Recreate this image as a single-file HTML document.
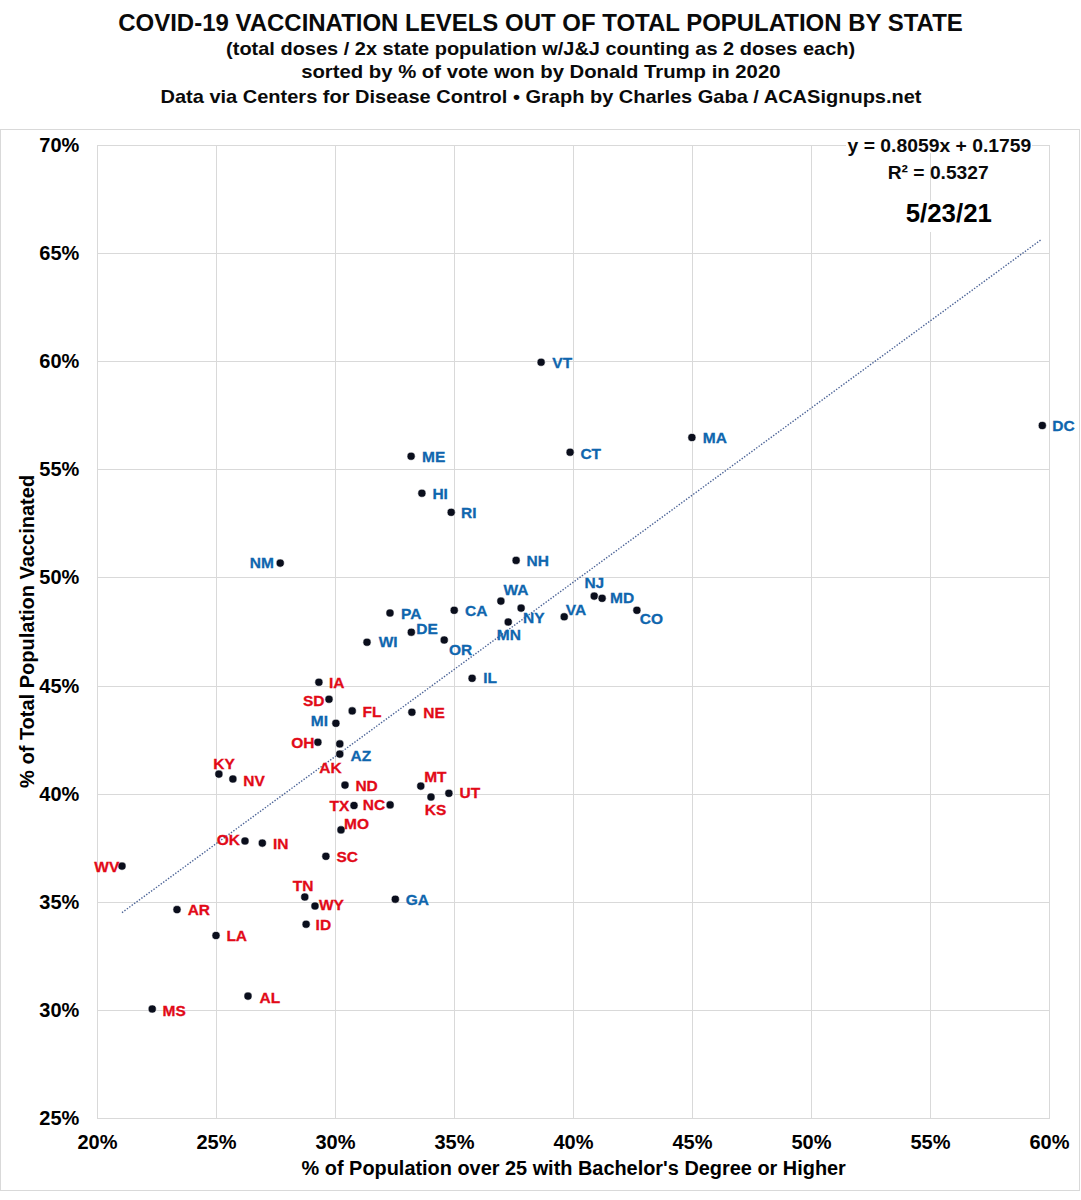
<!DOCTYPE html>
<html><head><meta charset="utf-8"><style>
html,body{margin:0;padding:0;background:#fff;}
svg{display:block;}
text{font-family:"Liberation Sans",sans-serif;font-weight:bold;}
</style></head><body>
<svg width="1081" height="1200" viewBox="0 0 1081 1200">
<rect width="1081" height="1200" fill="#fff"/>
<rect x="0.5" y="129.5" width="1079" height="1061" fill="none" stroke="#D9D9D9" stroke-width="1"/>
<line x1="97" y1="145.5" x2="1050" y2="145.5" stroke="#D9D9D9" stroke-width="1"/>
<line x1="97" y1="253.5" x2="1050" y2="253.5" stroke="#D9D9D9" stroke-width="1"/>
<line x1="97" y1="361.5" x2="1050" y2="361.5" stroke="#D9D9D9" stroke-width="1"/>
<line x1="97" y1="469.5" x2="1050" y2="469.5" stroke="#D9D9D9" stroke-width="1"/>
<line x1="97" y1="577.5" x2="1050" y2="577.5" stroke="#D9D9D9" stroke-width="1"/>
<line x1="97" y1="686.5" x2="1050" y2="686.5" stroke="#D9D9D9" stroke-width="1"/>
<line x1="97" y1="794.5" x2="1050" y2="794.5" stroke="#D9D9D9" stroke-width="1"/>
<line x1="97" y1="902.5" x2="1050" y2="902.5" stroke="#D9D9D9" stroke-width="1"/>
<line x1="97" y1="1010.5" x2="1050" y2="1010.5" stroke="#D9D9D9" stroke-width="1"/>
<line x1="97" y1="1118.5" x2="1050" y2="1118.5" stroke="#D9D9D9" stroke-width="1"/>
<line x1="97.5" y1="145" x2="97.5" y2="1119" stroke="#D9D9D9" stroke-width="1"/>
<line x1="216.5" y1="145" x2="216.5" y2="1119" stroke="#D9D9D9" stroke-width="1"/>
<line x1="335.5" y1="145" x2="335.5" y2="1119" stroke="#D9D9D9" stroke-width="1"/>
<line x1="454.5" y1="145" x2="454.5" y2="1119" stroke="#D9D9D9" stroke-width="1"/>
<line x1="573.5" y1="145" x2="573.5" y2="1119" stroke="#D9D9D9" stroke-width="1"/>
<line x1="692.5" y1="145" x2="692.5" y2="1119" stroke="#D9D9D9" stroke-width="1"/>
<line x1="811.5" y1="145" x2="811.5" y2="1119" stroke="#D9D9D9" stroke-width="1"/>
<line x1="930.5" y1="145" x2="930.5" y2="1119" stroke="#D9D9D9" stroke-width="1"/>
<line x1="1049.5" y1="145" x2="1049.5" y2="1119" stroke="#D9D9D9" stroke-width="1"/>
<text x="118.24" y="31.00" font-size="24" textLength="844.56" lengthAdjust="spacingAndGlyphs" fill="#0a0a0a" >COVID-19 VACCINATION LEVELS OUT OF TOTAL POPULATION BY STATE</text>
<text x="226.10" y="54.50" font-size="19" textLength="629.07" lengthAdjust="spacingAndGlyphs" fill="#0a0a0a" >(total doses / 2x state population w/J&amp;J counting as 2 doses each)</text>
<text x="301.19" y="78.30" font-size="19" textLength="479.28" lengthAdjust="spacingAndGlyphs" fill="#0a0a0a" >sorted by % of vote won by Donald Trump in 2020</text>
<text x="160.50" y="102.60" font-size="19" textLength="761.05" lengthAdjust="spacingAndGlyphs" fill="#0a0a0a" >Data via Centers for Disease Control • Graph by Charles Gaba / ACASignups.net</text>
<text x="79.3" y="151.5" font-size="20" text-anchor="end" fill="#000">70%</text>
<text x="79.3" y="259.5" font-size="20" text-anchor="end" fill="#000">65%</text>
<text x="79.3" y="367.5" font-size="20" text-anchor="end" fill="#000">60%</text>
<text x="79.3" y="475.5" font-size="20" text-anchor="end" fill="#000">55%</text>
<text x="79.3" y="583.5" font-size="20" text-anchor="end" fill="#000">50%</text>
<text x="79.3" y="692.5" font-size="20" text-anchor="end" fill="#000">45%</text>
<text x="79.3" y="800.5" font-size="20" text-anchor="end" fill="#000">40%</text>
<text x="79.3" y="908.5" font-size="20" text-anchor="end" fill="#000">35%</text>
<text x="79.3" y="1016.5" font-size="20" text-anchor="end" fill="#000">30%</text>
<text x="79.3" y="1124.5" font-size="20" text-anchor="end" fill="#000">25%</text>
<text x="97.5" y="1149.1" font-size="20" text-anchor="middle" fill="#000">20%</text>
<text x="216.5" y="1149.1" font-size="20" text-anchor="middle" fill="#000">25%</text>
<text x="335.5" y="1149.1" font-size="20" text-anchor="middle" fill="#000">30%</text>
<text x="454.5" y="1149.1" font-size="20" text-anchor="middle" fill="#000">35%</text>
<text x="573.5" y="1149.1" font-size="20" text-anchor="middle" fill="#000">40%</text>
<text x="692.5" y="1149.1" font-size="20" text-anchor="middle" fill="#000">45%</text>
<text x="811.5" y="1149.1" font-size="20" text-anchor="middle" fill="#000">50%</text>
<text x="930.5" y="1149.1" font-size="20" text-anchor="middle" fill="#000">55%</text>
<text x="1049.5" y="1149.1" font-size="20" text-anchor="middle" fill="#000">60%</text>
<text x="301.60" y="1175.20" font-size="20" textLength="544.25" lengthAdjust="spacingAndGlyphs" fill="#000" >% of Population over 25 with Bachelor's Degree or Higher</text>
<g transform="translate(33.9,787.5) rotate(-90)">
<text x="-0.40" y="0" font-size="20" fill="#000">% of Total Population Vaccinated</text>
</g>
<line x1="122" y1="912.6" x2="1041.8" y2="239.2" stroke="#4A6296" stroke-width="1.4" stroke-dasharray="1.4 1.6"/>
<rect x="846" y="136" width="186" height="17" fill="#fff"/>
<rect x="900" y="201" width="98" height="31" fill="#fff"/>
<text x="847.61" y="151.60" font-size="19" textLength="183.73" lengthAdjust="spacingAndGlyphs" fill="#0a0a0a" >y = 0.8059x + 0.1759</text>
<text x="887.76" y="178.80" font-size="19" textLength="100.87" lengthAdjust="spacingAndGlyphs" fill="#0a0a0a" >R² = 0.5327</text>
<text x="905.73" y="222.00" font-size="25" textLength="86.15" lengthAdjust="spacingAndGlyphs" fill="#000" >5/23/21</text>
<circle cx="541.1" cy="362.2" r="4.05" fill="#0A0E1C" stroke="#fff" stroke-width="0.6"/>
<circle cx="691.9" cy="437.5" r="4.05" fill="#0A0E1C" stroke="#fff" stroke-width="0.6"/>
<circle cx="1042.3" cy="425.5" r="4.05" fill="#0A0E1C" stroke="#fff" stroke-width="0.6"/>
<circle cx="411.1" cy="456.2" r="4.05" fill="#0A0E1C" stroke="#fff" stroke-width="0.6"/>
<circle cx="570.1" cy="452.2" r="4.05" fill="#0A0E1C" stroke="#fff" stroke-width="0.6"/>
<circle cx="421.9" cy="493.2" r="4.05" fill="#0A0E1C" stroke="#fff" stroke-width="0.6"/>
<circle cx="451.2" cy="512.3" r="4.05" fill="#0A0E1C" stroke="#fff" stroke-width="0.6"/>
<circle cx="280.2" cy="563.1" r="4.05" fill="#0A0E1C" stroke="#fff" stroke-width="0.6"/>
<circle cx="516.1" cy="560.4" r="4.05" fill="#0A0E1C" stroke="#fff" stroke-width="0.6"/>
<circle cx="500.9" cy="601.1" r="4.05" fill="#0A0E1C" stroke="#fff" stroke-width="0.6"/>
<circle cx="594.2" cy="596.1" r="4.05" fill="#0A0E1C" stroke="#fff" stroke-width="0.6"/>
<circle cx="602.1" cy="598.3" r="4.05" fill="#0A0E1C" stroke="#fff" stroke-width="0.6"/>
<circle cx="636.9" cy="610.3" r="4.05" fill="#0A0E1C" stroke="#fff" stroke-width="0.6"/>
<circle cx="564.2" cy="616.8" r="4.05" fill="#0A0E1C" stroke="#fff" stroke-width="0.6"/>
<circle cx="521.1" cy="608.1" r="4.05" fill="#0A0E1C" stroke="#fff" stroke-width="0.6"/>
<circle cx="508.2" cy="622" r="4.05" fill="#0A0E1C" stroke="#fff" stroke-width="0.6"/>
<circle cx="454.2" cy="610.3" r="4.05" fill="#0A0E1C" stroke="#fff" stroke-width="0.6"/>
<circle cx="390" cy="613" r="4.05" fill="#0A0E1C" stroke="#fff" stroke-width="0.6"/>
<circle cx="411.3" cy="632.2" r="4.05" fill="#0A0E1C" stroke="#fff" stroke-width="0.6"/>
<circle cx="367" cy="642.2" r="4.05" fill="#0A0E1C" stroke="#fff" stroke-width="0.6"/>
<circle cx="444.2" cy="640" r="4.05" fill="#0A0E1C" stroke="#fff" stroke-width="0.6"/>
<circle cx="472.1" cy="678.3" r="4.05" fill="#0A0E1C" stroke="#fff" stroke-width="0.6"/>
<circle cx="335.9" cy="723.3" r="4.05" fill="#0A0E1C" stroke="#fff" stroke-width="0.6"/>
<circle cx="339.8" cy="754.1" r="4.05" fill="#0A0E1C" stroke="#fff" stroke-width="0.6"/>
<circle cx="395.3" cy="899.2" r="4.05" fill="#0A0E1C" stroke="#fff" stroke-width="0.6"/>
<circle cx="318.9" cy="682.2" r="4.05" fill="#0A0E1C" stroke="#fff" stroke-width="0.6"/>
<circle cx="329" cy="699.2" r="4.05" fill="#0A0E1C" stroke="#fff" stroke-width="0.6"/>
<circle cx="352.2" cy="710.9" r="4.05" fill="#0A0E1C" stroke="#fff" stroke-width="0.6"/>
<circle cx="411.9" cy="712.2" r="4.05" fill="#0A0E1C" stroke="#fff" stroke-width="0.6"/>
<circle cx="317.9" cy="742.2" r="4.05" fill="#0A0E1C" stroke="#fff" stroke-width="0.6"/>
<circle cx="339.8" cy="743.9" r="4.05" fill="#0A0E1C" stroke="#fff" stroke-width="0.6"/>
<circle cx="218.9" cy="774.1" r="4.05" fill="#0A0E1C" stroke="#fff" stroke-width="0.6"/>
<circle cx="232.9" cy="779" r="4.05" fill="#0A0E1C" stroke="#fff" stroke-width="0.6"/>
<circle cx="345" cy="785.1" r="4.05" fill="#0A0E1C" stroke="#fff" stroke-width="0.6"/>
<circle cx="420.8" cy="786.1" r="4.05" fill="#0A0E1C" stroke="#fff" stroke-width="0.6"/>
<circle cx="448.9" cy="793.3" r="4.05" fill="#0A0E1C" stroke="#fff" stroke-width="0.6"/>
<circle cx="431" cy="797" r="4.05" fill="#0A0E1C" stroke="#fff" stroke-width="0.6"/>
<circle cx="354" cy="805.5" r="4.05" fill="#0A0E1C" stroke="#fff" stroke-width="0.6"/>
<circle cx="390.1" cy="804.9" r="4.05" fill="#0A0E1C" stroke="#fff" stroke-width="0.6"/>
<circle cx="341" cy="829.9" r="4.05" fill="#0A0E1C" stroke="#fff" stroke-width="0.6"/>
<circle cx="325.9" cy="856.3" r="4.05" fill="#0A0E1C" stroke="#fff" stroke-width="0.6"/>
<circle cx="245" cy="841" r="4.05" fill="#0A0E1C" stroke="#fff" stroke-width="0.6"/>
<circle cx="262.3" cy="843.1" r="4.05" fill="#0A0E1C" stroke="#fff" stroke-width="0.6"/>
<circle cx="122" cy="866.1" r="4.05" fill="#0A0E1C" stroke="#fff" stroke-width="0.6"/>
<circle cx="304.8" cy="897" r="4.05" fill="#0A0E1C" stroke="#fff" stroke-width="0.6"/>
<circle cx="315" cy="906" r="4.05" fill="#0A0E1C" stroke="#fff" stroke-width="0.6"/>
<circle cx="306.1" cy="924.2" r="4.05" fill="#0A0E1C" stroke="#fff" stroke-width="0.6"/>
<circle cx="177" cy="909.6" r="4.05" fill="#0A0E1C" stroke="#fff" stroke-width="0.6"/>
<circle cx="216" cy="935.5" r="4.05" fill="#0A0E1C" stroke="#fff" stroke-width="0.6"/>
<circle cx="248" cy="996.1" r="4.05" fill="#0A0E1C" stroke="#fff" stroke-width="0.6"/>
<circle cx="152.2" cy="1009" r="4.05" fill="#0A0E1C" stroke="#fff" stroke-width="0.6"/>
<text x="552.35" y="368.25" font-size="15.5" fill="#0F66AE" stroke="#0F66AE" stroke-width="0.3">VT</text>
<text x="702.81" y="442.55" font-size="15.5" fill="#0F66AE" stroke="#0F66AE" stroke-width="0.3">MA</text>
<text x="1052.22" y="430.82" font-size="15.5" fill="#0F66AE" stroke="#0F66AE" stroke-width="0.3">DC</text>
<text x="422.01" y="461.55" font-size="15.5" fill="#0F66AE" stroke="#0F66AE" stroke-width="0.3">ME</text>
<text x="580.38" y="458.53" font-size="15.5" fill="#0F66AE" stroke="#0F66AE" stroke-width="0.3">CT</text>
<text x="432.42" y="499.45" font-size="15.5" fill="#0F66AE" stroke="#0F66AE" stroke-width="0.3">HI</text>
<text x="461.12" y="517.85" font-size="15.5" fill="#0F66AE" stroke="#0F66AE" stroke-width="0.3">RI</text>
<text x="249.72" y="568.45" font-size="15.5" fill="#0F66AE" stroke="#0F66AE" stroke-width="0.3">NM</text>
<text x="526.51" y="565.65" font-size="15.5" fill="#0F66AE" stroke="#0F66AE" stroke-width="0.3">NH</text>
<text x="503.50" y="595.35" font-size="15.5" fill="#0F66AE" stroke="#0F66AE" stroke-width="0.3">WA</text>
<text x="584.41" y="587.65" font-size="15.5" fill="#0F66AE" stroke="#0F66AE" stroke-width="0.3">NJ</text>
<text x="610.11" y="602.85" font-size="15.5" fill="#0F66AE" stroke="#0F66AE" stroke-width="0.3">MD</text>
<text x="639.78" y="624.12" font-size="15.5" fill="#0F66AE" stroke="#0F66AE" stroke-width="0.3">CO</text>
<text x="565.75" y="614.65" font-size="15.5" fill="#0F66AE" stroke="#0F66AE" stroke-width="0.3">VA</text>
<text x="523.11" y="623.35" font-size="15.5" fill="#0F66AE" stroke="#0F66AE" stroke-width="0.3">NY</text>
<text x="496.81" y="639.55" font-size="15.5" fill="#0F66AE" stroke="#0F66AE" stroke-width="0.3">MN</text>
<text x="465.08" y="615.67" font-size="15.5" fill="#0F66AE" stroke="#0F66AE" stroke-width="0.3">CA</text>
<text x="401.01" y="618.65" font-size="15.5" fill="#0F66AE" stroke="#0F66AE" stroke-width="0.3">PA</text>
<text x="416.31" y="633.75" font-size="15.5" fill="#0F66AE" stroke="#0F66AE" stroke-width="0.3">DE</text>
<text x="378.70" y="647.25" font-size="15.5" fill="#0F66AE" stroke="#0F66AE" stroke-width="0.3">WI</text>
<text x="448.98" y="655.42" font-size="15.5" fill="#0F66AE" stroke="#0F66AE" stroke-width="0.3">OR</text>
<text x="483.21" y="683.35" font-size="15.5" fill="#0F66AE" stroke="#0F66AE" stroke-width="0.3">IL</text>
<text x="310.81" y="726.05" font-size="15.5" fill="#0F66AE" stroke="#0F66AE" stroke-width="0.3">MI</text>
<text x="350.44" y="760.85" font-size="15.5" fill="#0F66AE" stroke="#0F66AE" stroke-width="0.3">AZ</text>
<text x="405.78" y="905.02" font-size="15.5" fill="#0F66AE" stroke="#0F66AE" stroke-width="0.3">GA</text>
<text x="328.92" y="688.05" font-size="15.5" fill="#E20A18" stroke="#E20A18" stroke-width="0.3">IA</text>
<text x="303.04" y="705.92" font-size="15.5" fill="#E20A18" stroke="#E20A18" stroke-width="0.3">SD</text>
<text x="362.62" y="717.15" font-size="15.5" fill="#E20A18" stroke="#E20A18" stroke-width="0.3">FL</text>
<text x="423.31" y="717.55" font-size="15.5" fill="#E20A18" stroke="#E20A18" stroke-width="0.3">NE</text>
<text x="291.28" y="747.72" font-size="15.5" fill="#E20A18" stroke="#E20A18" stroke-width="0.3">OH</text>
<text x="319.33" y="772.95" font-size="15.5" fill="#E20A18" stroke="#E20A18" stroke-width="0.3">AK</text>
<text x="213.22" y="769.25" font-size="15.5" fill="#E20A18" stroke="#E20A18" stroke-width="0.3">KY</text>
<text x="243.31" y="785.85" font-size="15.5" fill="#E20A18" stroke="#E20A18" stroke-width="0.3">NV</text>
<text x="355.42" y="790.85" font-size="15.5" fill="#E20A18" stroke="#E20A18" stroke-width="0.3">ND</text>
<text x="424.21" y="781.65" font-size="15.5" fill="#E20A18" stroke="#E20A18" stroke-width="0.3">MT</text>
<text x="459.47" y="798.25" font-size="15.5" fill="#E20A18" stroke="#E20A18" stroke-width="0.3">UT</text>
<text x="424.71" y="814.62" font-size="15.5" fill="#E20A18" stroke="#E20A18" stroke-width="0.3">KS</text>
<text x="329.44" y="810.85" font-size="15.5" fill="#E20A18" stroke="#E20A18" stroke-width="0.3">TX</text>
<text x="362.81" y="810.42" font-size="15.5" fill="#E20A18" stroke="#E20A18" stroke-width="0.3">NC</text>
<text x="344.01" y="829.42" font-size="15.5" fill="#E20A18" stroke="#E20A18" stroke-width="0.3">MO</text>
<text x="336.54" y="862.12" font-size="15.5" fill="#E20A18" stroke="#E20A18" stroke-width="0.3">SC</text>
<text x="216.78" y="844.82" font-size="15.5" fill="#E20A18" stroke="#E20A18" stroke-width="0.3">OK</text>
<text x="272.92" y="848.75" font-size="15.5" fill="#E20A18" stroke="#E20A18" stroke-width="0.3">IN</text>
<text x="94.30" y="871.75" font-size="15.5" fill="#E20A18" stroke="#E20A18" stroke-width="0.3">WV</text>
<text x="292.85" y="890.65" font-size="15.5" fill="#E20A18" stroke="#E20A18" stroke-width="0.3">TN</text>
<text x="318.90" y="909.75" font-size="15.5" fill="#E20A18" stroke="#E20A18" stroke-width="0.3">WY</text>
<text x="315.62" y="930.05" font-size="15.5" fill="#E20A18" stroke="#E20A18" stroke-width="0.3">ID</text>
<text x="187.63" y="915.25" font-size="15.5" fill="#E20A18" stroke="#E20A18" stroke-width="0.3">AR</text>
<text x="226.41" y="941.15" font-size="15.5" fill="#E20A18" stroke="#E20A18" stroke-width="0.3">LA</text>
<text x="259.44" y="1002.95" font-size="15.5" fill="#E20A18" stroke="#E20A18" stroke-width="0.3">AL</text>
<text x="162.62" y="1015.72" font-size="15.5" fill="#E20A18" stroke="#E20A18" stroke-width="0.3">MS</text>
</svg>
</body></html>
